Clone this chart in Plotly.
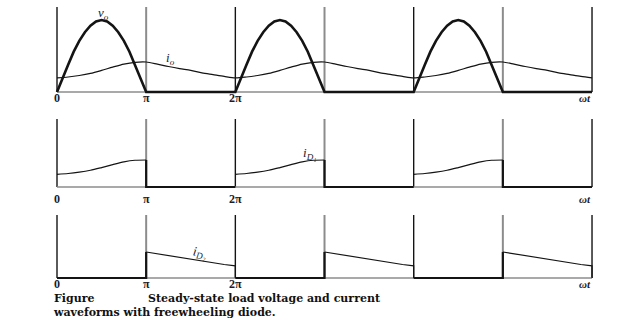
import plotly.graph_objects as go

# ---------------- data (angles in units of pi) ----------------
vo_theta = [0.0, 0.0625, 0.125, 0.1875, 0.25, 0.3125, 0.375, 0.4375, 0.5,
            0.5625, 0.625, 0.6875, 0.75, 0.8125, 0.875, 0.9375, 1.0]
vo_half = [0.00, 0.20, 0.38, 0.56, 0.71, 0.83, 0.92, 0.98, 1.00,
           0.98, 0.92, 0.83, 0.71, 0.56, 0.38, 0.20, 0.00]

io_theta = [0.0, 0.125, 0.25, 0.375, 0.5, 0.625, 0.75, 0.875, 1.0,
            1.125, 1.25, 1.375, 1.5, 1.625, 1.75, 1.875, 2.0]
io_period = [0.47, 0.50, 0.55, 0.62, 0.72, 0.83, 0.93, 0.99, 1.00,
             0.93, 0.85, 0.78, 0.72, 0.64, 0.58, 0.52, 0.47]

period_starts = [0, 2, 4]
grid_x = [0, 1, 2, 3, 4, 5, 6]
tick_vals = [0, 1, 2]
tick_text = ["0", "π", "2π"]
caption_head = "Figure"
caption_line1 = "Steady-state load voltage and current"
caption_line2 = "waveforms with freewheeling diode."

# ---------------- layout constants ----------------
W, H = 620, 320
X0_PX, PI_PX = 57, 89.17          # pixel of 0 and pixels per pi
panels = {                        # axis: (baseline px, px per unit, top of grid px)
    "y":  (92, 72, 7),            # v_o
    "y2": (92, 30, 7),            # i_o
    "y3": (187, 27, 119),         # i_D1
    "y4": (278, 26, 215),         # i_D2
}

def yrange(base, scale):
    return [-(H - base) / scale, base / scale]

BLACK = "#141414"
GRAY = "#8c8c8c"
SERIF = "Liberation Serif, Times New Roman, serif"

fig = go.Figure()

# ---- panel 1: v_o ----
vx, vy = [], []
for k in period_starts:
    for t, v in zip(vo_theta, vo_half):
        vx.append(k + t); vy.append(v)
    vx.append(k + 2); vy.append(0)
fig.add_trace(go.Scatter(x=vx, y=vy, mode="lines", yaxis="y",
                         line=dict(color=BLACK, width=2.6)))

# ---- panel 1: i_o ----
ix, iy = [], []
for n, k in enumerate(period_starts):
    for j, (t, v) in enumerate(zip(io_theta, io_period)):
        if n > 0 and j == 0:
            continue
        ix.append(k + t); iy.append(v)
fig.add_trace(go.Scatter(x=ix, y=iy, mode="lines", yaxis="y2",
                         line=dict(color=BLACK, width=1.2, shape="spline", smoothing=0.8)))

# ---- panel 2: i_D1 ----
cx, cy, zx, zy = [], [], [], []
for k in period_starts:
    for t, v in zip(io_theta, io_period):
        if t <= 1.0:
            cx.append(k + t); cy.append(v)
    cx.append(None); cy.append(None)
    zx += [k + 1, k + 1, k + 2, None]
    zy += [io_period[8], 0, 0, None]
fig.add_trace(go.Scatter(x=cx, y=cy, mode="lines", yaxis="y3",
                         line=dict(color=BLACK, width=1.2, shape="spline", smoothing=0.8)))
fig.add_trace(go.Scatter(x=zx, y=zy, mode="lines", yaxis="y3",
                         line=dict(color=BLACK, width=2.2)))

# ---- panel 3: i_D2 ----
cx, cy, zx, zy = [], [], [], []
for k in period_starts:
    for t, v in zip(io_theta, io_period):
        if t >= 1.0:
            cx.append(k + t); cy.append(v)
    cx += [k + 2, None]; cy += [0, None]
    zx += [k, k + 1, k + 1, None]
    zy += [0, 0, io_period[8], None]
fig.add_trace(go.Scatter(x=cx, y=cy, mode="lines", yaxis="y4",
                         line=dict(color=BLACK, width=1.2)))
fig.add_trace(go.Scatter(x=zx, y=zy, mode="lines", yaxis="y4",
                         line=dict(color=BLACK, width=2.2)))

# ---- grid verticals and baselines ----
shapes = []
for ax in ["y", "y3", "y4"]:
    base, scale, top = panels[ax]
    top_val = (base - top) / scale
    for g in grid_x:
        even = g % 2 == 0
        shapes.append(dict(type="line", xref="x", yref=ax, x0=g, x1=g, y0=0, y1=top_val,
                           line=dict(color=BLACK if even else GRAY, width=1.4 if even else 2.0),
                           layer="below"))
    shapes.append(dict(type="line", xref="x", yref=ax, x0=grid_x[0], x1=grid_x[-1], y0=0, y1=0,
                       line=dict(color=GRAY, width=1.6), layer="below"))

# ---- annotations ----
ann = []
def px2paper_y(py):
    return 1 - py / H

for base, lab_y in [(92, 98), (187, 199), (278, 283.5)]:
    for tv, tt in zip(tick_vals, tick_text):
        ann.append(dict(x=tv, xref="x", y=px2paper_y(lab_y), yref="paper", text=tt,
                        showarrow=False, xanchor="center", yanchor="middle", borderpad=0,
                        font=dict(family=SERIF, size=12, color="#1c1c2c", weight="bold")))
    ann.append(dict(x=(585 - X0_PX) / PI_PX, xref="x", y=px2paper_y(lab_y), yref="paper",
                    text="ωt", showarrow=False, xanchor="center", yanchor="middle", borderpad=0,
                    font=dict(family=SERIF, size=11, color="#1c1c2c", weight="bold",
                              style="italic")))

def curve_label(text, px, py, angle=0):
    ann.append(dict(x=(px - X0_PX) / PI_PX, xref="x", y=px2paper_y(py), yref="paper",
                    text=text, showarrow=False, xanchor="center", yanchor="middle",
                    textangle=angle,
                    font=dict(family=SERIF, size=13, color="#1c1c2c", style="italic")))

curve_label("v<sub>o</sub>", 103, 13)
curve_label("i<sub>o</sub>", 170, 59)
curve_label("i<sub>D₁</sub>", 309, 153)
curve_label("i<sub>D₂</sub>", 199, 252, angle=8)

gap = "\u00a0" * 14
caption = caption_head + gap + caption_line1 + "<br>" + caption_line2
ann.append(dict(x=52 / W, xref="paper", y=px2paper_y(305.8), yref="paper", text=caption,
                showarrow=False, xanchor="left", yanchor="middle", align="left", borderpad=0,
                font=dict(family="DejaVu Serif, serif", size=11, color="#111111",
                          weight="bold")))

xr = [-X0_PX / PI_PX, (W - X0_PX) / PI_PX]
layout_axes = {}
for ax in ["y", "y2", "y3", "y4"]:
    base, scale, _ = panels[ax]
    name = "yaxis" if ax == "y" else "yaxis" + ax[1:]
    d = dict(range=yrange(base, scale), visible=False, domain=[0, 1], fixedrange=True)
    if ax != "y":
        d["overlaying"] = "y"
    layout_axes[name] = d

fig.update_layout(
    width=W, height=H, margin=dict(l=0, r=0, t=0, b=0),
    paper_bgcolor="white", plot_bgcolor="white", showlegend=False,
    xaxis=dict(range=xr, visible=False, fixedrange=True),
    shapes=shapes, annotations=ann, **layout_axes)

fig.write_html("out.html")
